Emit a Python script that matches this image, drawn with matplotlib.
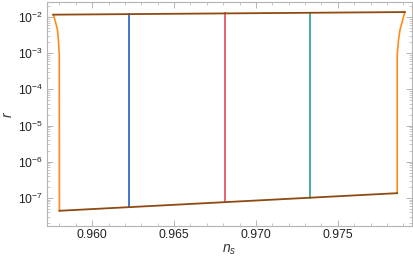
import matplotlib
matplotlib.use("Agg")
import matplotlib.pyplot as plt
from matplotlib.ticker import LogLocator, MultipleLocator, FixedLocator, NullFormatter

plt.rcParams['font.family'] = ['Liberation Sans', 'DejaVu Sans']
plt.rcParams['mathtext.fontset'] = 'custom'
plt.rcParams['mathtext.rm'] = 'Liberation Sans'
plt.rcParams['mathtext.it'] = 'Liberation Sans:italic'

# boundary (orange) left edge
left_ns = [0.95762, 0.95773, 0.95788, 0.95794, 0.95799, 0.95800]
left_r = [1.16e-2, 8.3e-3, 4.4e-3, 2.3e-3, 8.8e-4, 4.4e-8]
# boundary (orange) right edge
right_ns = [0.97910, 0.97896, 0.97880, 0.97871, 0.97863, 0.97863]
right_r = [1.37e-2, 8.3e-3, 4.4e-3, 2.3e-3, 8.8e-4, 1.35e-7]
# top and bottom (brown) edges
top_ns = [0.95762, 0.97910]
top_r = [1.16e-2, 1.37e-2]
bot_ns = [0.95800, 0.97863]
bot_r = [4.4e-8, 1.35e-7]
# vertical lines
vlines_ns = [0.96222, 0.96809, 0.97332]
vlines_rlo = [5.7e-8, 7.7e-8, 1.0e-7]
vlines_rhi = [1.21e-2, 1.27e-2, 1.31e-2]
vcolors = ['#2060c0', '#e04a5a', '#2a9d90']

xticks = [0.960, 0.965, 0.970, 0.975]
xticklabels = ['0.960', '0.965', '0.970', '0.975']

fig = plt.figure(figsize=(4.14, 2.63), dpi=100)
ax = fig.add_axes([0.1135, 0.1407, 0.8815, 0.8517])

orange = '#ff8c1a'
brown = '#8f4a12'
ax.plot(left_ns, left_r, color=orange, lw=1.2)
ax.plot(right_ns, right_r, color=orange, lw=1.2)
for x, lo, hi, c in zip(vlines_ns, vlines_rlo, vlines_rhi, vcolors):
    ax.plot([x, x], [lo, hi], color=c, lw=1.2)
ax.plot(top_ns, top_r, color=brown, lw=1.3)
ax.plot(bot_ns, bot_r, color=brown, lw=1.3)

ax.set_yscale('log')
ax.set_xlim(0.95724, 0.97953)
ax.set_ylim(1.67e-8, 2.6e-2)

ax.xaxis.set_major_locator(FixedLocator(xticks))
ax.set_xticklabels(xticklabels)
ax.xaxis.set_minor_locator(MultipleLocator(0.001))
ax.yaxis.set_major_locator(LogLocator(base=10, numticks=20))
ax.yaxis.set_minor_locator(LogLocator(base=10, subs=range(2, 10), numticks=20))
ax.yaxis.set_minor_formatter(NullFormatter())

for s in ax.spines.values():
    s.set_color('#b4b4b4')
    s.set_linewidth(0.8)
ax.tick_params(which='both', direction='in', top=True, right=True, color='#b4b4b4',
               labelsize=8.7, labelcolor='#222222')
ax.tick_params(which='major', length=4, width=0.7)
ax.tick_params(which='minor', length=2, width=0.5)
ax.tick_params(axis='x', pad=2)
ax.tick_params(axis='y', pad=3)

ax.set_xlabel(r'$n_s$', fontsize=10, color='#333333', labelpad=1)
ax.set_ylabel(r'$r$', fontsize=10, color='#333333', labelpad=2)

fig.savefig('out.png', dpi=100)
